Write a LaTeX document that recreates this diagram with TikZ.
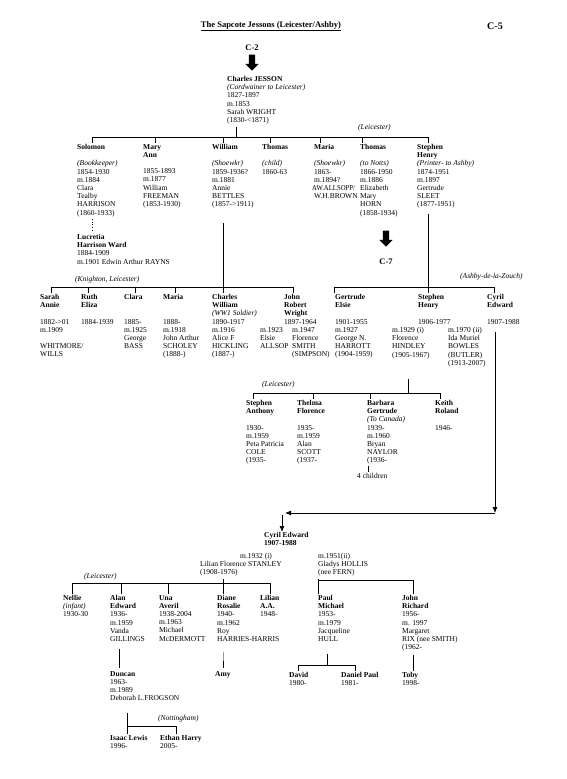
\documentclass[tikz,border=0pt]{standalone}
\usepackage{fontspec}
\setmainfont{Liberation Serif}
\usetikzlibrary{positioning,arrows.meta,shapes.arrows}
\definecolor{ScanLilac}{HTML}{9A8CD4}
\newcommand{\gaprow}{\mbox{}}

\begin{document}
\begin{tikzpicture}[x=1pt,y=1pt,>={Latex[length=6pt,width=5pt]}]
  \tikzstyle{person}=[anchor=north west,inner sep=0pt,align=left,font=\fontsize{7.5}{8.2}\selectfont]
  \tikzstyle{place}=[anchor=west,inner sep=0pt,font=\fontsize{7.5}{8.2}\selectfont\itshape]
  \tikzstyle{sheet}=[inner sep=0pt,font=\fontsize{8.5}{9}\selectfont\bfseries]
  \tikzstyle{bigarrow}=[single arrow,fill=black,rotate=-90,inner sep=3pt,single arrow head extend=3.5pt,minimum height=16pt]
  \tikzstyle{kin}=[thick,shorten >=1pt]
  \useasboundingbox (0,0) rectangle (567,-779);
  \fill[white] (0,0) rectangle (567,-779);

  % heading
  \node[sheet] (title) at (271,-26) {\underline{The Sapcote Jessons (Leicester/Ashby)}};
  \node[sheet,font=\fontsize{10}{11}\selectfont\bfseries] (sheetno) at (495,-26) {C-5};
  \node[sheet] (fromc2) at (252,-48) {C-2};
  \node[bigarrow] (toCharles) at (252,-61) {};
  \node[person] (charles) at (227,-76) {\textbf{Charles JESSON}\\\textit{(Cordwainer to Leicester)}\\1827-1897\\m.1853\\Sarah WRIGHT\\(1830-<1871)};

  % children of Charles
  \node[person] (solomon) at (77,-144) {\textbf{Solomon}\\\gaprow\\\textit{(Bookkeeper)}\\1854-1930\\m.1884\\Clara\\Tealby\\HARRISON\\(1860-1933)};
  \node[person] (maryann) at (143,-144) {\textbf{Mary}\\\textbf{Ann}\\\gaprow\\1855-1893\\m.1877\\William\\FREEMAN\\(1853-1930)};
  \node[person] (william) at (212,-144) {\textbf{William}\\\gaprow\\\textit{(Shoewkr)}\\1859-1936?\\m.1881\\Annie\\BETTLES\\(1857->1911)};
  \node[person] (thomasc) at (262,-144) {\textbf{Thomas}\\\gaprow\\\textit{(child)}\\1860-63};
  \node[person] (maria) at (314,-144) {\textbf{Maria}\\\gaprow\\\textit{(Shoewkr)}\\1863-\\m.1894?\\\hspace*{-2pt}\scalebox{.9}[1]{AW.ALLSOPP/}\\W.H.BROWN};
  \node[person] (thomas) at (360,-144) {\textbf{Thomas}\\\gaprow\\\textit{(to Notts)}\\1866-1950\\m.1886\\Elizabeth\\Mary\\HORN\\(1858-1934)};
  \node[person] (stephen) at (417,-144) {\textbf{Stephen}\\\textbf{Henry}\\\textit{(Printer- to Ashby)}\\1874-1951\\m.1897\\Gertrude\\SLEET\\(1877-1951)};
  \node[place] (leic1) at (358,-128) {(Leicester)};
  \node[person] (lucretia) at (77,-234) {\textbf{Lucretia}\\\textbf{Harrison Ward}\\1884-1909\\m.1901 Edwin Arthur RAYNS};
  \node[bigarrow] (toC7) at (386,-237) {};
  \node[sheet] (c7) at (386,-262) {C-7};

  \coordinate (g2) at (236,-137);
  \draw[thick,shorten >=3pt] (g2) -- (g2 |- charles.south);
  \draw[kin] (g2) -| ([xshift=15pt]solomon.north west);
  \draw[kin] (g2) -| ([xshift=12pt]maryann.north west);
  \draw[kin] (g2) -| ([xshift=11pt]william.north west);
  \draw[kin] (g2) -| ([xshift=8pt]thomasc.north west);
  \draw[kin] (g2) -| ([xshift=6pt]maria.north west);
  \draw[kin] (g2) -| ([xshift=2pt]thomas.north west);
  \draw[kin] (g2) -| ([xshift=11pt]stephen.north west);
  \draw[thick,dotted,shorten <=2pt,shorten >=3pt] ([xshift=15pt]solomon.south west) -- ([xshift=15pt]lucretia.north west);

  % children of William
  \node[place] (knighton) at (75,-280) {(Knighton, Leicester)};
  \node[person] (sarah) at (40,-294) {\textbf{Sarah}\\\textbf{Annie}\\\gaprow\\1882->01\\m.1909\\\gaprow\\WHITMORE/\\WILLS};
  \node[person] (ruth) at (81,-294) {\textbf{Ruth}\\\textbf{Eliza}\\\gaprow\\1884-1939};
  \node[person] (clara) at (124,-294) {\textbf{Clara}\\\gaprow\\\gaprow\\1885-\\m.1925\\George\\BASS};
  \node[person] (maria2) at (163,-294) {\textbf{Maria}\\\gaprow\\\gaprow\\1888-\\m.1918\\John Arthur\\SCHOLEY\\(1888-)};
  \node[person] (charlesw) at (212,-294) {\textbf{Charles}\\\textbf{William}\\\textit{(WW1 Soldier)}\\1890-1917\\m.1916\\Alice F\\HICKLING\\(1887-)};
  \node[person] (john) at (284,-294) {\textbf{John}\\\textbf{Robert}\\\textbf{Wright}\\1897-1964};
  \node[person] (elsie) at (260,-327) {m.1923\\Elsie\\ALLSOP};
  \node[person] (florence) at (292,-327) {m.1947\\Florence\\SMITH\\(SIMPSON)};

  \coordinate (g3l) at (223,-287);
  \draw[kin,shorten <=14pt] (william.south west -| g3l) -- (g3l |- charlesw.north);
  \draw[kin] (g3l) -| ([xshift=11pt]sarah.north west);
  \draw[kin] (g3l) -| ([xshift=7pt]ruth.north west);
  \draw[kin] (g3l) -| ([xshift=11pt]clara.north west);
  \draw[kin] (g3l) -| ([xshift=12pt]maria2.north west);
  \draw[kin] (g3l) -| ([xshift=9pt]john.north west);

  % children of Stephen Henry
  \node[place] (ashby) at (460,-277) {(Ashby-de-la-Zouch)};
  \node[person] (gertrude) at (335,-294) {\textbf{Gertrude}\\\textbf{Elsie}\\\gaprow\\1901-1955\\m.1927\\George N.\\HARROTT\\(1904-1959)};
  \node[person] (stephenj) at (418,-294) {\textbf{Stephen}\\\textbf{Henry}\\\gaprow\\1906-1977};
  \node[person] (florenceh) at (392,-327) {m.1929 (i)\\Florence\\HINDLEY\\(1905-1967)};
  \node[person] (ida) at (448,-327) {m.1970 (ii)\\Ida Muriel\\BOWLES\\(BUTLER)\\(1913-2007)};
  \node[person] (cyril) at (487,-294) {\textbf{Cyril}\\\textbf{Edward}\\\gaprow\\1907-1988};

  \coordinate (g3r) at (428,-287);
  \draw[kin,shorten <=5pt] (stephen.south west -| g3r) -- (g3r |- stephenj.north);
  \draw[kin] (g3r) -| ([xshift=-1pt]gertrude.north west);
  \draw[kin] (g3r) -| ([xshift=7pt]cyril.north west);

  % children of Stephen Henry and Florence
  \node[place] (leic2) at (262,-385) {(Leicester)};
  \node[person] (stephena) at (246,-400) {\textbf{Stephen}\\\textbf{Anthony}\\\gaprow\\1930-\\m.1959\\Peta Patricia\\COLE\\(1935-};
  \node[person] (thelma) at (297,-400) {\textbf{Thelma}\\\textbf{Florence}\\\gaprow\\1935-\\m.1959\\Alan\\SCOTT\\(1937-};
  \node[person] (barbara) at (367,-400) {\textbf{Barbara}\\\textbf{Gertrude}\\\textit{(To Canada)}\\1939-\\m.1960\\Bryan\\NAYLOR\\(1936-};
  \node[person] (keith) at (435,-400) {\textbf{Keith}\\\textbf{Roland}\\\gaprow\\1946-};
  \node[person] (kids) at (357,-473) {4 children};

  \coordinate (g4) at (408,-393);
  \draw[thick,shorten <=20pt] (florenceh.south -| g4) -- (g4);
  \draw[kin] (g4) -| ([xshift=7pt]stephena.north west);
  \draw[kin] (g4) -| ([xshift=16pt]thelma.north west);
  \draw[kin] (g4) -| ([xshift=3pt]barbara.north west);
  \draw[kin] (g4) -| ([xshift=5pt]keith.north west);
  \draw[thick,shorten <=1pt,shorten >=1pt] ([xshift=1pt]barbara.south west) -- ([xshift=11pt]kids.north west);

  % Cyril Edward carried down
  \node[person] (cyrile) at (264,-532) {\textbf{Cyril Edward}\\\textbf{1907-1988}};
  \node[person] (stanley) at (200,-553) {\hspace*{40pt}m.1932 (i)\\Lilian Florence STANLEY\\(1908-1976)};
  \node[person] (gladys) at (318,-553) {m.1951(ii)\\Gladys HOLLIS\\(nee FERN)};
  \coordinate (cturn) at (495,-513);
  \coordinate (cleft) at (285,-513);
  \coordinate (cdrop) at (282,-515);
  \draw[thick,->,shorten <=8pt] (cyril.south -| cturn) -- (cturn);
  \draw[thick,->] (cturn) -- (cleft);
  \draw[thick,->] (cdrop) -- (cdrop |- cyrile.north);

  % children of Cyril Edward
  \node[place] (leic3) at (84,-577) {(Leicester)};
  \node[person] (nellie) at (63,-595) {\textbf{Nellie}\\\textit{(infant)}\\1930-30};
  \node[person] (alan) at (110,-595) {\textbf{Alan}\\\textbf{Edward}\\1936-\\m.1959\\Vanda\\GILLINGS};
  \node[person] (una) at (159,-595) {\textbf{Una}\\\textbf{Averil}\\1938-2004\\m.1963\\Michael\\McDERMOTT};
  \node[person] (diane) at (217,-595) {\textbf{Diane}\\\textbf{Rosalie}\\1940-\\m.1962\\Roy\\HARRIES-HARRIS};
  \node[person] (lilian) at (260,-595) {\textbf{Lilian}\\\textbf{A.A.}\\1948-};
  \node[person] (paul) at (318,-595) {\textbf{Paul}\\\textbf{Michael}\\1953-\\m.1979\\Jacqueline\\HULL};
  \node[person] (johnr) at (402,-595) {\textbf{John}\\\textbf{Richard}\\1956-\\m. 1997\\Margaret\\RIX (nee SMITH)\\(1962-};

  \coordinate (g5l) at (223,-583);
  \draw[thick,shorten <=2pt] (stanley.south -| g5l) -- (g5l);
  \draw[kin] (g5l) -| ([xshift=9pt]nellie.north west);
  \draw[kin] (g5l) -| ([xshift=11pt]alan.north west);
  \draw[kin] (g5l) -| ([xshift=9pt]una.north west);
  \draw[kin] (g5l) -| ([xshift=6pt]diane.north west);
  \draw[kin] (g5l) -| ([xshift=10pt]lilian.north west);
  \coordinate (g5r) at (318,-580);
  \draw[kin,shorten <=2pt] (gladys.south west) -- (g5r |- paul.north);
  \draw[kin] (g5r) -| ([xshift=11pt]johnr.north west);

  % grandchildren
  \node[person] (duncan) at (110,-671) {\textbf{Duncan}\\1963-\\m.1989\\Deborah L.FROGSON};
  \node[person] (amy) at (215,-671) {\textbf{Amy}};
  \node[person] (david) at (289,-672) {\textbf{David}\\1980-};
  \node[person] (daniel) at (341,-672) {\textbf{Daniel Paul}\\1981-};
  \node[person] (toby) at (402,-672) {\textbf{Toby}\\1998-};
  \draw[thick,shorten <=7pt,shorten >=3pt] ([xshift=9pt]alan.south west) -- ([xshift=9pt]duncan.north west);
  \draw[thick,shorten <=10pt,shorten >=3pt] ([xshift=6pt]diane.south west) -- ([xshift=8pt]amy.north west);
  \draw[thick,ScanLilac,shorten <=10pt,shorten >=10pt] ([xshift=6pt]diane.south west) -- ([xshift=8pt]amy.north west);
  \coordinate (g6p) at (327,-665);
  \draw[thick,shorten <=12pt] (paul.south west -| g6p) -- (g6p);
  \draw[kin] (g6p) -| ([xshift=9pt]david.north west);
  \draw[kin] (g6p) -| ([xshift=14pt]daniel.north west);
  \draw[kin,shorten <=4pt] ([xshift=11pt]johnr.south west) -- ([xshift=11pt]toby.north west);

  % children of Duncan
  \node[place] (notts) at (158,-719) {(Nottingham)};
  \node[person] (isaac) at (110,-735) {\textbf{Isaac Lewis}\\1996-};
  \node[person] (ethan) at (160,-735) {\textbf{Ethan Harry}\\2005-};
  \coordinate (g6d) at (127,-726);
  \draw[kin,shorten <=12pt] (duncan.south west -| g6d) -- (g6d |- isaac.north);
  \draw[kin] (g6d) -| ([xshift=16pt]ethan.north west);
\end{tikzpicture}
\end{document}
